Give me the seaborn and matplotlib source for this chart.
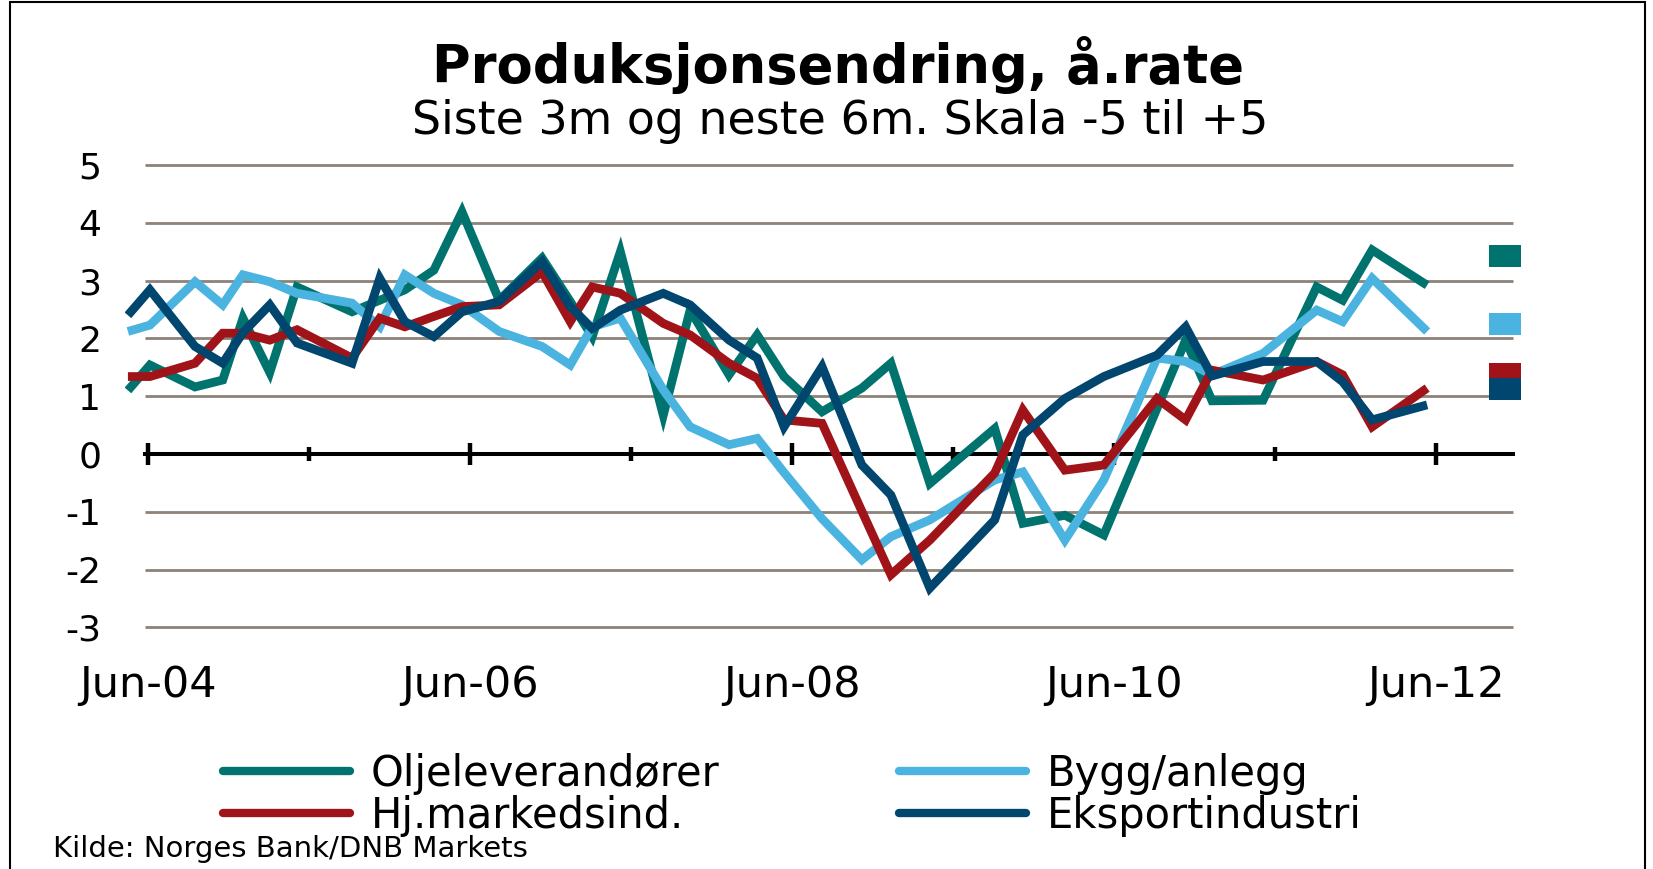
import numpy as np
import pandas as pd
import matplotlib
matplotlib.use("Agg")
import matplotlib.pyplot as plt
import seaborn as sns
from matplotlib.patches import Rectangle
from matplotlib.lines import Line2D

# ---------------- data ----------------
dates = ["2004-04-17", "2004-06-06", "2004-09-17", "2004-11-19", "2005-01-04",
         "2005-03-04", "2005-05-05", "2005-09-08", "2005-11-10", "2006-01-06",
         "2006-03-11", "2006-05-14", "2006-08-07", "2006-11-13", "2007-01-16",
         "2007-03-05", "2007-05-08", "2007-08-14", "2007-10-14", "2008-01-11",
         "2008-03-14", "2008-05-14", "2008-08-09", "2008-11-08", "2009-01-13",
         "2009-04-10", "2009-09-05", "2009-11-08", "2010-02-12", "2010-05-09",
         "2010-09-08", "2010-11-12", "2011-01-11", "2011-05-05", "2011-09-05",
         "2011-11-03", "2012-01-09", "2012-05-12"]

oljeleverandorer = [1.10, 1.54, 1.16, 1.28, 2.35, 1.41, 2.89, 2.46, 2.66, 2.84,
                    3.18, 4.19, 2.66, 3.39, 2.64, 2.03, 3.50, 0.67, 2.49, 1.37,
                    2.06, 1.34, 0.73, 1.14, 1.57, -0.51, 0.44, -1.20, -1.06, -1.40,
                    0.79, 1.97, 0.92, 0.93, 2.89, 2.66, 3.53, 2.92]
bygg_anlegg = [2.12, 2.23, 2.98, 2.58, 3.10, 2.98, 2.78, 2.61, 2.20, 3.10,
               2.78, 2.58, 2.12, 1.86, 1.54, 2.20, 2.35, 1.11, 0.47, 0.16,
               0.27, -0.32, -1.12, -1.83, -1.43, -1.14, -0.45, -0.31, -1.49, -0.45,
               1.66, 1.60, 1.37, 1.74, 2.49, 2.29, 3.04, 2.12]
hjemmemarked = [1.34, 1.34, 1.57, 2.09, 2.09, 1.97, 2.15, 1.66, 2.35, 2.20,
                2.38, 2.55, 2.58, 3.15, 2.29, 2.89, 2.78, 2.26, 2.06, 1.57,
                1.31, 0.59, 0.53, -0.99, -2.09, -1.49, -0.33, 0.76, -0.28, -0.19,
                0.96, 0.59, 1.45, 1.28, 1.60, 1.37, 0.47, 1.14]
eksportindustri = [2.40, 2.84, 1.86, 1.57, 2.10, 2.58, 1.92, 1.57, 3.04, 2.29,
                   2.03, 2.46, 2.64, 3.33, 2.55, 2.17, 2.49, 2.78, 2.58, 1.97,
                   1.66, 0.47, 1.51, -0.19, -0.71, -2.32, -1.14, 0.33, 0.96, 1.34,
                   1.71, 2.20, 1.35, 1.60, 1.60, 1.25, 0.59, 0.85]

# expectations next 6 months (square markers at the right)
outlook_date = "2012-11-07"
outlook_values = [3.43, 2.25, 1.38, 1.12]

series_names = ["Oljeleverandører", "Bygg/anlegg", "Hj.markedsind.", "Eksportindustri"]
series_colors = ["#00736E", "#4AB3E0", "#A01419", "#00466E"]
xtick_months = [0, 24, 48, 72, 96]
xtick_labels = ["Jun-04", "Jun-06", "Jun-08", "Jun-10", "Jun-12"]
yticks = [-3, -2, -1, 0, 1, 2, 3, 4, 5]

title = "Produksjonsendring, å.rate"
subtitle = "Siste 3m og neste 6m. Skala -5 til +5"
source = "Kilde: Norges Bank/DNB Markets"


def months_since_jun04(s):
    t = pd.Timestamp(s)
    return (t.year - 2004) * 12 + (t.month - 6) + (t.day - 1) / 30.44


x_m = [months_since_jun04(d) for d in dates]
values = [oljeleverandorer, bygg_anlegg, hjemmemarked, eksportindustri]
df = pd.concat([pd.DataFrame({"m": x_m, "value": v, "series": n})
                for n, v in zip(series_names, values)], ignore_index=True)
df_out = pd.DataFrame({"m": [months_since_jun04(outlook_date)] * 4,
                       "value": outlook_values, "series": series_names})

# ---------------- style ----------------
sns.set_theme(style="white")
plt.rcParams["font.family"] = ["DejaVu Sans"]
plt.rcParams["axes.unicode_minus"] = False
plt.rcParams["text.color"] = "black"

W, H = 1653, 869
fig = plt.figure(figsize=(W / 100, H / 100), dpi=100)
fig.patch.set_facecolor("white")

px_left, px_right, px_top, px_bottom = 125, 1513, 165, 627.4
ax = fig.add_axes([px_left / W, 1 - px_bottom / H,
                   (px_right - px_left) / W, (px_bottom - px_top) / H])
ax.set_facecolor("white")

px_per_month = 161 / 12.0
x0_px = 147.7
xlim = ((px_left - x0_px) / px_per_month, (px_right - x0_px) / px_per_month)
grid_start = (145 - x0_px) / px_per_month
ax.set_xlim(*xlim)
ax.set_ylim(-3, 5)

# gridlines
gx = (grid_start - xlim[0]) / (xlim[1] - xlim[0])
for v in yticks:
    if v != 0:
        ax.axhline(v, xmin=gx, xmax=1, color="#8C8279", lw=2.0, zorder=0,
                   clip_on=False)

# lines
sns.lineplot(data=df, x="m", y="value", hue="series", hue_order=series_names,
             palette=series_colors, lw=6.3, legend=False, ax=ax,
             errorbar=None, sort=True, zorder=3)
for ln in ax.get_lines():
    ln.set_solid_joinstyle("miter")
    ln.set_solid_capstyle("butt")

# outlook squares
rect_marker = [(-1, -0.66), (1, -0.66), (1, 0.66), (-1, 0.66), (-1, -0.66)]
for i, row in df_out.iterrows():
    ax.scatter([row["m"]], [row["value"]], marker=rect_marker, s=23 ** 2,
               color=series_colors[i], linewidths=0, zorder=4, clip_on=False)

# axes: zero line as bottom spine
for s in ["top", "right", "left"]:
    ax.spines[s].set_visible(False)
sp = ax.spines["bottom"]
sp.set_position(("data", 0))
sp.set_bounds(grid_start, xlim[1])
sp.set_color("black")
sp.set_linewidth(2.9)
sp.set_zorder(2)

ax.set_xticks(xtick_months)
ax.set_xticklabels(xtick_labels)
ax.set_xticks([12, 36, 60, 84], minor=True)
ax.tick_params(axis="x", which="major", direction="inout", length=16,
               width=3.2, color="black", pad=143, labelsize=31,
               labelcolor="black", bottom=True)
ax.tick_params(axis="x", which="minor", direction="inout", length=10,
               width=3.2, color="black", bottom=True)
ax.set_yticks(yticks)
ax.set_yticklabels([str(v) for v in yticks])
ax.tick_params(axis="y", length=0, pad=17, labelsize=26, labelcolor="black")
ax.set_xlabel("")
ax.set_ylabel("")
ax.grid(False)

# titles
fig.text(838 / W, 1 - 65 / H, title, ha="center", va="center",
         fontsize=38, fontweight="bold", color="black")
fig.text(840 / W, 1 - 121 / H, subtitle, ha="center", va="center",
         fontsize=33, color="black")

# legend
handles = [Line2D([0], [0], color=c, lw=6.0) for c in series_colors]
order = [0, 2, 1, 3]
leg = fig.legend([handles[i] for i in order], [series_names[i] for i in order],
                 ncol=2, loc="center left", bbox_to_anchor=(223 / W, 1 - 795 / H),
                 frameon=False, fontsize=30, handlelength=3.05, handletextpad=0.5,
                 columnspacing=4.3, labelspacing=0.0, borderaxespad=0,
                 borderpad=0)
for t in leg.get_texts():
    t.set_color("black")

fig.text(53 / W, 1 - 849 / H, source, ha="left", va="center", fontsize=21,
         color="black")

# frame around the picture
fig.patches.append(Rectangle((10 / W, -0.05), (1645 - 10) / W, 1.05 - 2 / H,
                             transform=fig.transFigure, fill=False,
                             edgecolor="black", lw=1.5))

fig.savefig("out.png", dpi=100, facecolor="white")
